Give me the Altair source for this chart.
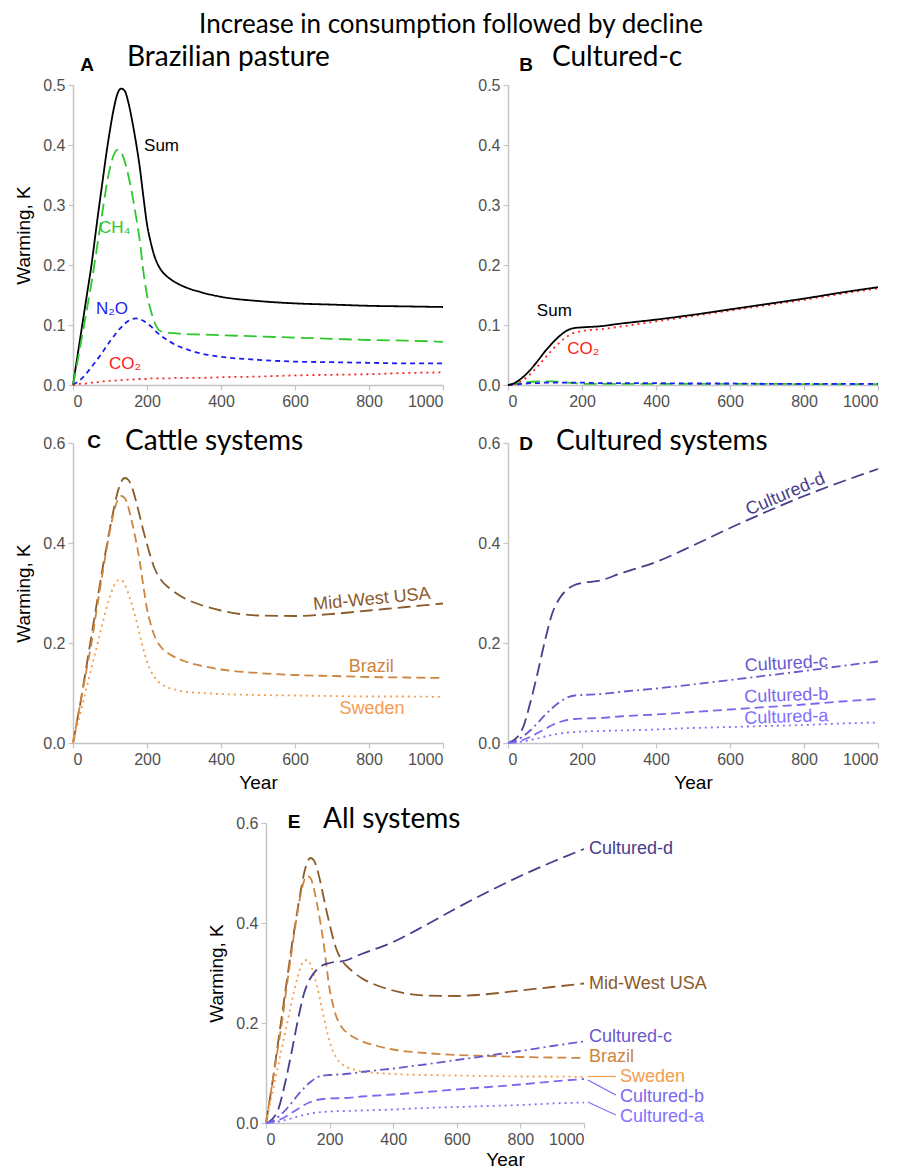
import altair as alt
import pandas as pd

# ---------------- data ----------------
YEARS_A = [0, 10, 20, 30, 40, 50, 60, 70, 80, 90, 100, 110, 120, 130, 140, 150, 160, 170, 180, 190,
           200, 210, 220, 230, 240, 260, 280, 300, 350, 400, 500, 600, 700, 800, 900, 1000]
SUM_A = [0, 0.04, 0.08, 0.12, 0.16, 0.20, 0.248, 0.295, 0.34, 0.385, 0.425, 0.46, 0.485, 0.494, 0.49,
         0.47, 0.44, 0.405, 0.365, 0.315, 0.268, 0.238, 0.215, 0.2, 0.19, 0.178, 0.17, 0.164, 0.154,
         0.147, 0.14, 0.136, 0.134, 0.132, 0.131, 0.130]
CH4_A = [0, 0.032, 0.066, 0.1, 0.135, 0.17, 0.21, 0.25, 0.29, 0.33, 0.362, 0.383, 0.392, 0.388, 0.372,
         0.348, 0.318, 0.282, 0.243, 0.19, 0.15, 0.125, 0.105, 0.093, 0.089, 0.087, 0.086, 0.085, 0.084,
         0.083, 0.081, 0.079, 0.077, 0.075, 0.074, 0.072]
N2O_A = [0, 0.004, 0.009, 0.015, 0.022, 0.03, 0.038, 0.046, 0.055, 0.064, 0.073, 0.081, 0.089, 0.096,
         0.102, 0.107, 0.11, 0.111, 0.11, 0.107, 0.103, 0.098, 0.092, 0.086, 0.081, 0.073, 0.066, 0.061,
         0.052, 0.047, 0.042, 0.039, 0.038, 0.037, 0.036, 0.036]
CO2_A = [0, 0.001, 0.002, 0.002, 0.003, 0.004, 0.004, 0.005, 0.006, 0.006, 0.007, 0.007, 0.008, 0.008,
         0.009, 0.009, 0.009, 0.010, 0.010, 0.010, 0.010, 0.011, 0.011, 0.011, 0.011, 0.011, 0.012, 0.012,
         0.012, 0.013, 0.014, 0.016, 0.017, 0.018, 0.020, 0.021]

YEARS_B = [0, 20, 40, 60, 80, 100, 120, 140, 160, 180, 200, 250, 300, 400, 500, 600, 700, 800, 900, 1000]
SUM_B = [0, 0.004, 0.013, 0.025, 0.04, 0.056, 0.07, 0.082, 0.091, 0.095, 0.096, 0.098, 0.102, 0.109,
         0.117, 0.126, 0.135, 0.144, 0.154, 0.163]
CO2_B = [0, 0.002, 0.008, 0.018, 0.031, 0.045, 0.059, 0.071, 0.081, 0.087, 0.09, 0.093, 0.097, 0.106,
         0.115, 0.124, 0.133, 0.142, 0.152, 0.161]
CH4_B = [0, 0.002, 0.004, 0.005, 0.006, 0.006, 0.006, 0.005, 0.004, 0.003, 0.002, 0.002, 0.002, 0.002,
         0.002, 0.002, 0.002, 0.0015, 0.0015, 0.0015]
N2O_B = [0, 0.001, 0.002, 0.003, 0.003, 0.004, 0.004, 0.004, 0.004, 0.004, 0.004, 0.003, 0.003, 0.003,
         0.0025, 0.0025, 0.002, 0.002, 0.002, 0.002]

MIDWEST = [0, 0.04, 0.08, 0.125, 0.17, 0.215, 0.26, 0.305, 0.35, 0.39, 0.43, 0.467, 0.5, 0.522, 0.53,
           0.526, 0.51, 0.485, 0.455, 0.425, 0.398, 0.372, 0.35, 0.335, 0.324, 0.31, 0.299, 0.29, 0.275,
           0.265, 0.255, 0.254, 0.258, 0.265, 0.272, 0.279]
BRAZIL = SUM_A
SWEDEN = [0, 0.03, 0.06, 0.09, 0.12, 0.15, 0.18, 0.21, 0.24, 0.268, 0.293, 0.313, 0.325, 0.326, 0.317,
          0.298, 0.275, 0.248, 0.218, 0.188, 0.163, 0.145, 0.132, 0.123, 0.117, 0.11, 0.106, 0.103, 0.1,
          0.098, 0.096, 0.095, 0.094, 0.093, 0.093, 0.092]

CULT_D = [0, 0.008, 0.03, 0.08, 0.14, 0.205, 0.26, 0.29, 0.307, 0.316, 0.32, 0.325, 0.338, 0.362, 0.395,
          0.43, 0.463, 0.494, 0.522, 0.548]
CULT_C = SUM_B
CULT_B = [0, 0.002, 0.006, 0.012, 0.02, 0.028, 0.036, 0.042, 0.046, 0.048, 0.049, 0.05, 0.053, 0.057,
          0.062, 0.067, 0.072, 0.077, 0.083, 0.088]
CULT_A = [0, 0.001, 0.003, 0.006, 0.009, 0.013, 0.016, 0.019, 0.021, 0.022, 0.023, 0.024, 0.025, 0.027,
          0.03, 0.032, 0.034, 0.036, 0.039, 0.041]

X_TICKS = [0, 200, 400, 600, 800, 1000]
Y_TICKS_AB = [0, 0.1, 0.2, 0.3, 0.4, 0.5]
Y_TICKS_CDE = [0, 0.2, 0.4, 0.6]

# styles
C_SUM, C_CH4, C_N2O, C_CO2 = "#000000", "#2ec82e", "#1c1cf5", "#ff2020"
C_MW, C_BR, C_SW = "#8b5a2b", "#cd8540", "#f49c4e"
C_D, C_C, C_B, C_A = "#483d8b", "#6a5acd", "#7b68ee", "#8470ff"
D_SOLID, D_LONG, D_DASH, D_SHORT, D_DOT, D_DASHDOT = [1, 0], [13, 6], [9, 5], [5, 4], [2, 4], [9, 4, 2, 4]

FONT = "Liberation Sans"
TFONT = "Lato"


def panel(series, ymax, yticks, w, h, ytitle, xtitle, labels, headers,
          label_align="left", rules=None, xrange=None, yrange=None, yoffset=0, year_title_x=None,
          xtitle_pad=6):
    xaxis = dict(values=X_TICKS, format="d", titlePadding=xtitle_pad)
    xaxis["title"] = xtitle if xtitle else None
    if year_title_x is not None:
        xaxis["titleX"] = year_title_x
    yaxis = dict(values=yticks, format=".1f", titlePadding=9)
    yaxis["title"] = ytitle if ytitle else None
    if yoffset:
        yaxis["offset"] = yoffset
    xs = dict(domain=[0, 1000], nice=False)
    if xrange:
        xs["range"] = xrange
    ys = dict(domain=[0, ymax], nice=False)
    if yrange:
        ys["range"] = yrange

    def X(f):
        return alt.X(f, type="quantitative", scale=alt.Scale(**xs), axis=alt.Axis(**xaxis))

    def Y(f):
        return alt.Y(f, type="quantitative", scale=alt.Scale(**ys), axis=alt.Axis(**yaxis))

    layers = []
    for name, yrs, vals, color, dash in series:
        df = pd.DataFrame({"year": yrs, "value": vals})
        layers.append(alt.Chart(df).mark_line(
            strokeWidth=1.8, interpolate="monotone", color=color, strokeDash=dash
        ).encode(x=X("year"), y=Y("value")))
    if rules is not None:
        rdf = pd.DataFrame(rules, columns=["year", "value", "year2", "value2", "color"])
        layers.append(alt.Chart(rdf).mark_rule(strokeWidth=1.2).encode(
            x=X("year"), y=Y("value"), x2="year2:Q", y2="value2:Q",
            color=alt.Color("color:N", scale=None)))
    ldf = pd.DataFrame(labels, columns=["label", "year", "value", "color", "angle", "size"])
    for size in sorted(set(ldf["size"])):
        sub = ldf[ldf["size"] == size]
        layers.append(alt.Chart(sub).mark_text(align=label_align, baseline="middle", font=FONT,
                                               fontSize=size).encode(
            x=X("year"), y=Y("value"), text="label:N",
            color=alt.Color("color:N", scale=None),
            angle=alt.Angle("angle:Q", scale=None)))
    for text, px, py, font, size, weight, align in headers:
        layers.append(alt.Chart(pd.DataFrame({"t": [text]})).mark_text(
            align=align, baseline="middle", font=font, fontSize=size, fontWeight=weight,
            color="#000000").encode(text="t:N", x=alt.value(px), y=alt.value(py)))
    return alt.layer(*layers).properties(width=w, height=h)


W, H = 370, 300

A = panel(
    [("Sum", YEARS_A, SUM_A, C_SUM, D_SOLID), ("CH4", YEARS_A, CH4_A, C_CH4, D_LONG),
     ("N2O", YEARS_A, N2O_A, C_N2O, D_SHORT), ("CO2", YEARS_A, CO2_A, C_CO2, D_DOT)],
    0.5, Y_TICKS_AB, W, H, "Warming, K", None,
    [("Sum", 192, 0.398, C_SUM, 0, 17), ("CH₄", 70, 0.262, C_CH4, 0, 17),
     ("N₂O", 62, 0.127, C_N2O, 0, 17), ("CO₂", 97, 0.035, C_CO2, 0, 17)],
    [("Increase in consumption followed by decline", 378, -60, TFONT, 26, "normal", "center"),
     ("A", 14, -20, FONT, 19, "bold", "center"),
     ("Brazilian pasture", 54, -27, TFONT, 28, "normal", "left")],
)

B = panel(
    [("CH4", YEARS_B, CH4_B, C_CH4, D_LONG), ("N2O", YEARS_B, N2O_B, C_N2O, D_SHORT),
     ("CO2", YEARS_B, CO2_B, C_CO2, D_DOT), ("Sum", YEARS_B, SUM_B, C_SUM, D_SOLID)],
    0.5, Y_TICKS_AB, W, H, None, None,
    [("Sum", 78, 0.123, C_SUM, 0, 17), ("CO₂", 160, 0.06, C_CO2, 0, 17)],
    [("B", 18, -20, FONT, 19, "bold", "center"),
     ("Cultured-c", 44, -27, TFONT, 28, "normal", "left")],
)

C = panel(
    [("Mid-West USA", YEARS_A, MIDWEST, C_MW, D_LONG), ("Brazil", YEARS_A, BRAZIL, C_BR, D_DASH),
     ("Sweden", YEARS_A, SWEDEN, C_SW, D_DOT)],
    0.6, Y_TICKS_CDE, W, H, "Warming, K", "Year",
    [("Mid-West USA", 808, 0.287, C_MW, 354.5, 18), ("Brazil", 806, 0.153, C_BR, 0, 18),
     ("Sweden", 808, 0.068, C_SW, 0, 18)],
    [("C", 21, -1, FONT, 19, "bold", "center"),
     ("Cattle systems", 52, -1, TFONT, 28, "normal", "left")],
    label_align="center",
)

D = panel(
    [("Cultured-d", YEARS_B, CULT_D, C_D, D_LONG), ("Cultured-c", YEARS_B, CULT_C, C_C, D_DASHDOT),
     ("Cultured-b", YEARS_B, CULT_B, C_B, D_DASH), ("Cultured-a", YEARS_B, CULT_A, C_A, D_DOT)],
    0.6, Y_TICKS_CDE, W, H, None, "Year",
    [("Cultured-d", 750, 0.497, C_D, 337, 18), ("Cultured-c", 752, 0.158, C_C, 357, 18),
     ("Cultured-b", 752, 0.094, C_B, 358, 18), ("Cultured-a", 752, 0.051, C_A, 358, 18)],
    [("D", 18, 1, FONT, 19, "bold", "center"),
     ("Cultured systems", 48, -1, TFONT, 28, "normal", "left")],
    label_align="center",
)

# panel E sits lower and further right than the grid cell: shift its scale ranges
EX0, EW, EY0, EH = 193, 318, 22, 300
E = panel(
    [("Mid-West USA", YEARS_A, MIDWEST, C_MW, D_LONG), ("Brazil", YEARS_A, BRAZIL, C_BR, D_DASH),
     ("Sweden", YEARS_A, SWEDEN, C_SW, D_DOT), ("Cultured-d", YEARS_B, CULT_D, C_D, D_LONG),
     ("Cultured-c", YEARS_B, CULT_C, C_C, D_DASHDOT), ("Cultured-b", YEARS_B, CULT_B, C_B, D_DASH),
     ("Cultured-a", YEARS_B, CULT_A, C_A, D_DOT)],
    0.6, Y_TICKS_CDE, W, EY0 + EH, "Warming, K", "Year",
    [("Cultured-d", 1016, 0.549, C_D, 0, 18), ("Mid-West USA", 1016, 0.278, C_MW, 0, 18),
     ("Cultured-c", 1016, 0.173, C_C, 0, 18), ("Brazil", 1016, 0.133, C_BR, 0, 18),
     ("Sweden", 1113, 0.093, C_SW, 0, 18), ("Cultured-b", 1113, 0.053, C_B, 0, 18),
     ("Cultured-a", 1113, 0.013, C_A, 0, 18)],
    [("E", EX0 + 28, EY0 - 1, FONT, 19, "bold", "center"),
     ("All systems", EX0 + 57, EY0 - 3, TFONT, 28, "normal", "left")],
    rules=[(1012, 0.093, 1100, 0.093, C_SW), (1012, 0.086, 1100, 0.056, C_B),
           (1012, 0.042, 1100, 0.016, C_A)],
    xrange=[EX0, EX0 + EW], yrange=[EY0 + EH, EY0], yoffset=-EX0, year_title_x=EX0 + 239,
    xtitle_pad=3,
)

chart = alt.concat(A, B, C, D, E, columns=2, bounds="flush",
                   spacing=alt.RowColnumber(row=58, column=65)).properties(
    padding={"left": 6, "top": 3, "right": 2, "bottom": 0}
).configure_view(stroke="transparent").configure_axis(
    grid=False, domainColor="#c4c4c4", tickColor="#c4c4c4", domainWidth=1.5, tickWidth=1.2,
    tickSize=5, labelColor="#505050", labelFont=FONT, labelFontSize=16, labelPadding=3,
    titleFont=FONT, titleFontSize=19, titleFontWeight="normal", titleColor="#000000",
)

chart.save("out.html", embed_options={"renderer": "svg", "actions": False})
